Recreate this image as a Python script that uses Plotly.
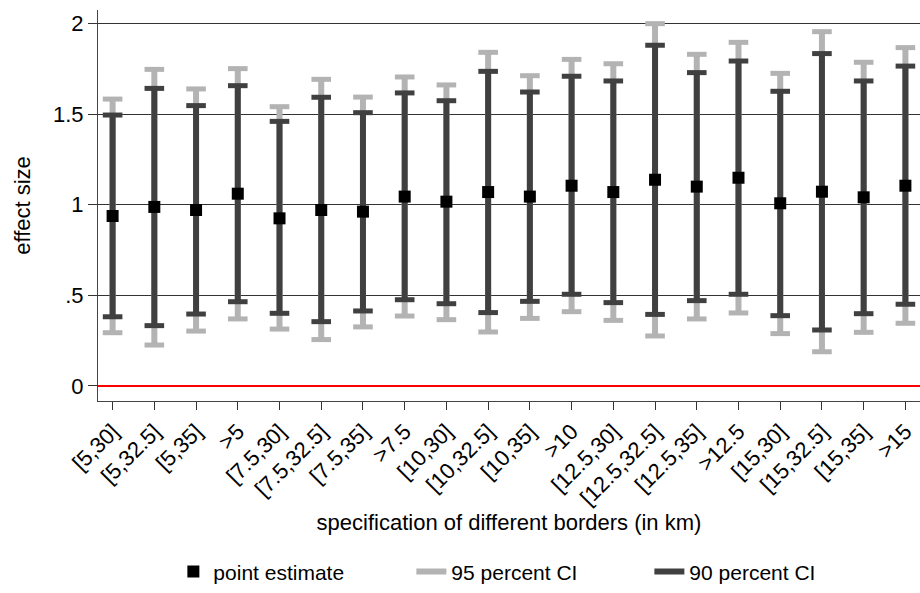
import plotly.graph_objects as go

borders = ["[5,30]", "[5,32.5]", "[5,35]", ">5",
           "[7.5,30]", "[7.5,32.5]", "[7.5,35]", ">7.5",
           "[10,30]", "[10,32.5]", "[10,35]", ">10",
           "[12.5,30]", "[12.5,32.5]", "[12.5,35]", ">12.5",
           "[15,30]", "[15,32.5]", "[15,35]", ">15"]

point_est = [0.938, 0.988, 0.971, 1.061, 0.925, 0.971, 0.962, 1.045, 1.017, 1.070,
             1.045, 1.105, 1.070, 1.138, 1.100, 1.149, 1.008, 1.072, 1.041, 1.105]
lo90 = [0.382, 0.333, 0.397, 0.465, 0.401, 0.355, 0.414, 0.476, 0.454, 0.405,
        0.467, 0.506, 0.460, 0.395, 0.471, 0.506, 0.388, 0.309, 0.399, 0.451]
hi90 = [1.495, 1.642, 1.547, 1.657, 1.460, 1.593, 1.508, 1.617, 1.574, 1.736,
        1.622, 1.709, 1.683, 1.880, 1.729, 1.793, 1.626, 1.834, 1.683, 1.765]
lo95 = [0.294, 0.226, 0.303, 0.370, 0.314, 0.256, 0.326, 0.386, 0.366, 0.298,
        0.373, 0.410, 0.362, 0.276, 0.370, 0.403, 0.289, 0.189, 0.296, 0.346]
hi95 = [1.583, 1.747, 1.639, 1.751, 1.541, 1.692, 1.594, 1.705, 1.661, 1.841,
        1.712, 1.802, 1.778, 1.999, 1.830, 1.896, 1.725, 1.955, 1.786, 1.867]

FONT = "Liberation Sans, Arial, sans-serif"
GRAY = "#b3b3b3"
DARK = "#404040"


def ci_traces(lo, hi, color, name):
    xs, ys = [], []
    for c, a, b in zip(borders, lo, hi):
        xs += [c, c, None]
        ys += [a, b, None]
    line = go.Scatter(x=xs, y=ys, mode="lines", name=name, legendgroup=name,
                      line=dict(color=color, width=6))
    caps = go.Scatter(x=borders + borders, y=list(lo) + list(hi), mode="markers",
                      legendgroup=name, showlegend=False, hoverinfo="skip",
                      marker=dict(symbol="line-ew", size=14,
                                  line=dict(color=color, width=5)))
    return [line, caps]


fig = go.Figure()
for t in ci_traces(lo95, hi95, GRAY, "95 percent CI"):
    fig.add_trace(t)
for t in ci_traces(lo90, hi90, DARK, "90 percent CI"):
    fig.add_trace(t)
fig.add_trace(go.Scatter(x=borders, y=point_est, mode="markers", name="point estimate",
                         marker=dict(symbol="square", size=12, color="black")))

# legend order: point estimate first
fig.update_traces(legendrank=1, selector=dict(name="point estimate"))
fig.update_traces(legendrank=2, selector=dict(name="95 percent CI"))
fig.update_traces(legendrank=3, selector=dict(name="90 percent CI"))

fig.update_layout(
    width=920, height=593,
    margin=dict(l=98, r=0, t=10, b=192),
    paper_bgcolor="white", plot_bgcolor="white",
    font=dict(family=FONT, size=21, color="black"),
    legend=dict(orientation="h", x=0.526, xanchor="center", y=-0.437, yanchor="middle",
                entrywidth=193, font=dict(size=21)),
)
fig.update_xaxes(
    type="category", categoryorder="array", categoryarray=borders,
    range=[-0.35, 19.35], tickangle=-45, ticks="outside", ticklen=8,
    tickcolor="#333333", showline=True, linecolor="#444444", linewidth=1,
    showgrid=False, tickfont=dict(size=22), automargin=False,
    title=dict(text="specification of different borders (in km)", font=dict(size=22),
               standoff=4),
)
fig.update_yaxes(
    range=[-0.0828, 2.0745], tickvals=[0, 0.5, 1, 1.5, 2],
    ticktext=["0", ".5", "1", "1.5", "2"], ticks="outside", ticklen=9,
    tickcolor="#333333", showline=True, linecolor="#444444", linewidth=1,
    showgrid=True, gridcolor="#333333", gridwidth=1,
    zeroline=True, zerolinecolor="red", zerolinewidth=2,
    tickfont=dict(size=22), automargin=False,
    title=dict(text="effect size", font=dict(size=22), standoff=16),
)

fig.write_html("out.html", config={"displayModeBar": False},
               post_script="document.body.style.margin='0px';")
